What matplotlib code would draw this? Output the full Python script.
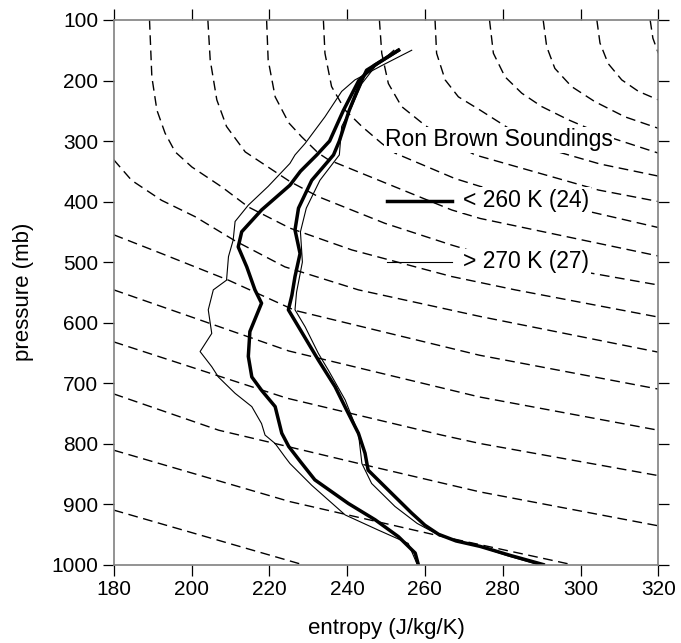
import matplotlib
matplotlib.use("Agg")
import matplotlib.pyplot as plt

# soundings: entropy (J/kg/K) vs pressure (mb)
thick_left_s = [253.2, 247, 243, 239, 235.5, 232.2, 228, 225.3, 218, 212.9, 212, 214.2, 216.3, 218, 215, 214.6, 215.5, 218, 221.5, 223.2, 225, 228, 231.7, 240.3, 247.2, 253.2, 257.5, 258.3]
thick_left_p = [150, 175, 200, 250, 300, 323, 350, 373, 414, 450, 475, 508, 546, 568, 615, 656, 690, 712, 739, 783, 805, 830, 860, 899, 926, 954, 981, 1000]

thin_left_s = [256.6, 249, 242, 238.6, 234.3, 229.2, 226.6, 225.3, 219.7, 214.6, 211.2, 210.7, 209.5, 209, 205.6, 204.3, 205.2, 202.2, 205.2, 206.9, 211.2, 215.5, 218, 218.9, 221.5, 224, 225.3, 230.9, 239.5, 248, 255.7, 257.9]
thin_left_p = [150, 175, 199, 218, 260, 304, 323, 337, 375, 406, 433, 464, 491, 530, 546, 579, 618, 648, 673, 690, 717, 739, 767, 786, 800, 822, 833, 869, 918, 943, 965, 998]

thick_right_s = [253.2, 245, 243, 240.5, 238, 236.5, 230.9, 227.5, 226.6, 227.9, 226.6, 225.8, 224.9, 227.5, 232.6, 236.9, 239.9, 242.9, 244.6, 245.4, 250.6, 256.6, 260, 263.5, 268, 274.2, 282, 290.4]
thick_right_p = [150, 183, 210, 250, 300, 323, 365, 411, 447, 486, 524, 555, 579, 607, 662, 706, 745, 783, 816, 844, 877, 915, 935, 950, 961, 970, 985, 1000]

thin_right_s = [252, 247.2, 243.8, 241.2, 238.6, 238, 233, 229.5, 228, 228.5, 227, 226.6, 229.2, 232.6, 235.2, 239.5, 242.9, 243.8, 246.3, 252.3, 258, 262.6, 268, 274, 281, 289]
thin_right_p = [150, 177, 205, 243, 276, 323, 365, 411, 450, 500, 550, 579, 607, 651, 679, 728, 783, 833, 866, 904, 932, 948, 960, 970, 985, 1000]

# dashed background curves
c10_s = [317.9, 318.6, 320]
c10_p = [100, 130, 155]
c9_s = [304.2, 305.0, 307.1, 310.6, 314.9, 320]
c9_p = [100, 138, 172, 199, 218, 232]
c8_s = [290.4, 291.3, 293.4, 297.7, 303.7, 311.4, 320]
c8_p = [100, 144, 180, 210, 235, 260, 279]
c7_s = [276.6, 277.6, 280.6, 284.9, 290, 296.9, 307.1, 320]
c7_p = [100, 155, 194, 221, 243, 265, 293, 320]
c6_s = [262.6, 263, 265.2, 268.6, 274.2, 283, 292.6, 305, 320]
c6_p = [100, 155, 199, 227, 249, 285, 315, 338, 358]
c5_s = [248.3, 248.9, 250.6, 254, 260, 266, 272.9, 292.6, 304.6, 320]
c5_p = [100, 155, 205, 243, 274, 300, 323, 359, 381, 400]
c4_s = [233.9, 234.3, 236, 239.5, 243.8, 248.9, 252.3, 267.7, 274.2, 320]
c4_p = [100, 155, 210, 249, 276, 304, 320, 362, 375, 443]
c3_s = [219.3, 219.7, 221.5, 225, 228.3, 232.6, 235.2, 266.9, 274.2, 320]
c3_p = [100, 166, 227, 270, 293, 320, 331, 414, 428, 490]
c2_s = [204.2, 204.8, 206.5, 209, 213.8, 225.3, 232.6, 249.7, 266.9, 274.2, 320]
c2_p = [100, 166, 232, 276, 318, 367, 392, 436, 472, 486, 538]
c1_s = [189.2, 189.8, 191.1, 193.2, 195.8, 200.1, 207.8, 214.6, 225.3, 241.2, 266.9, 283.2, 320]
c1_p = [100, 194, 249, 287, 318, 343, 376, 409, 444, 480, 524, 546, 591]
l1_s = [180, 184.6, 192.3, 200.9, 211.2, 224, 242.9, 274.2, 320]
l1_p = [331, 365, 398, 425, 465, 508, 546, 590, 649]
l2_s = [180, 192.3, 209.5, 226.6, 274, 320]
l2_p = [455, 486, 530, 580, 654, 710]
l3_s = [180, 225, 274, 320]
l3_p = [546, 647, 723, 778]
l4_s = [180, 224.5, 264.3, 274.2, 320]
l4_p = [632, 725, 786, 800, 853]
l5_s = [180, 207, 221.5, 243, 274.2, 320]
l5_p = [718, 778, 800, 833, 880, 936]
l6_s = [180, 225.3, 262.6, 297.7]
l6_p = [811, 896, 951, 1000]
l7_s = [180, 228.5]
l7_p = [910, 1000]

dashed = [(c10_s, c10_p), (c9_s, c9_p), (c8_s, c8_p), (c7_s, c7_p), (c6_s, c6_p),
          (c5_s, c5_p), (c4_s, c4_p), (c3_s, c3_p), (c2_s, c2_p), (c1_s, c1_p),
          (l1_s, l1_p), (l2_s, l2_p), (l3_s, l3_p), (l4_s, l4_p), (l5_s, l5_p),
          (l6_s, l6_p), (l7_s, l7_p)]

plt.rcParams["font.family"] = ["Liberation Sans", "DejaVu Sans"]

fig = plt.figure(figsize=(6.81, 6.43), dpi=100)
ax = fig.add_axes([0.167, 0.122, 0.7997, 0.8469])

for s, p in dashed:
    ax.plot(s, p, color="black", lw=1.0, linestyle=(0, (7, 4)))

ax.plot(thin_left_s, thin_left_p, color="black", lw=0.8)
ax.plot(thin_right_s, thin_right_p, color="black", lw=0.8)
ax.plot(thick_left_s, thick_left_p, color="black", lw=2.5)
ax.plot(thick_right_s, thick_right_p, color="black", lw=2.5)

# legend drawn inside the axes
box = dict(facecolor="white", edgecolor="none", pad=1)
ax.text(249.8, 298, "Ron Brown Soundings", fontsize=16.5, va="center", ha="left", bbox=box)
ax.plot([250.2, 266.9], [399, 399], color="black", lw=2.5)
ax.text(269.9, 398, "< 260 K (24)", fontsize=16.5, va="center", ha="left", bbox=box)
ax.plot([250.2, 266.9], [500, 500], color="black", lw=0.8)
ax.text(269.9, 499, "> 270 K (27)", fontsize=16.5, va="center", ha="left", bbox=box)

ax.set_xlim(180, 320)
ax.set_ylim(1000, 100)
ax.set_xticks(range(180, 321, 20))
ax.set_yticks(range(100, 1001, 100))
ax.tick_params(direction="out", length=8, width=0.9, labelsize=15, pad=3,
               top=True, right=True, labeltop=False, labelright=False)
for sp in ax.spines.values():
    sp.set_color("#808080")
    sp.set_linewidth(1.2)
ax.set_xlabel("entropy (J/kg/K)", fontsize=16, labelpad=14)
ax.set_ylabel("pressure (mb)", fontsize=16, labelpad=13)

fig.savefig("out.png", dpi=100)
